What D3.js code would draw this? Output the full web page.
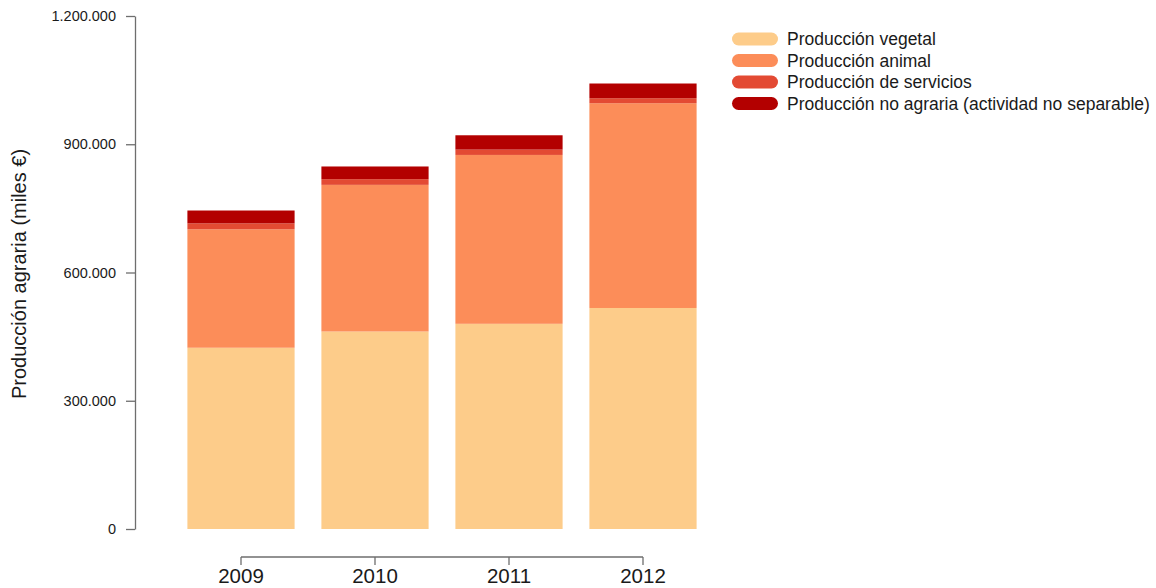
<!DOCTYPE html>
<html lang="es">
<head>
    <meta charset="UTF-8">
    <script src="https://d3js.org/d3.v7.min.js"></script>
    <style>
        body {
            margin: 0;
            padding: 0;
            background-color: #ffffff;
            font-family: 'Liberation Sans', Arial, sans-serif;
        }

        svg {
            display: block;
        }

        .axis path,
        .axis line {
            stroke: #6e6e6e;
            stroke-width: 1.3px;
        }

        .axis text {
            fill: #1a1a1a;
            font-family: 'Liberation Sans', Arial, sans-serif;
        }

        .legend text {
            fill: #1a1a1a;
            font-size: 17.5px;
        }
    </style>
</head>
<body>
    <svg id="chart" width="1156" height="588"></svg>

    <script>
        // Datos (miles de euros)
        const years = ["2009", "2010", "2011", "2012"];
        const vegetal = [424000, 462000, 480000, 517000];
        const animal = [277000, 343000, 395000, 479000];
        const servicios = [14000, 13300, 12500, 11700];
        const noAgraria = [30000, 29700, 33500, 34400];
        const yTicks = [0, 300000, 600000, 900000, 1200000];

        const seriesNames = [
            "Producción vegetal",
            "Producción animal",
            "Producción de servicios",
            "Producción no agraria (actividad no separable)"
        ];
        const colors = ["#fdcc8a", "#fc8d59", "#e34a33", "#b30000"];

        const table = years.map((y, i) => ({
            year: y,
            s0: vegetal[i],
            s1: animal[i],
            s2: servicios[i],
            s3: noAgraria[i]
        }));
        const keys = ["s0", "s1", "s2", "s3"];

        const svg = d3.select("#chart");

        const locale = d3.formatLocale({ decimal: ",", thousands: ".", grouping: [3], currency: ["", "€"] });
        const fmt = locale.format(",d");

        // Scales
        const x = d3.scaleBand()
            .domain(years)
            .range([174, 710])
            .paddingInner(0.2)
            .paddingOuter(0.1);

        const y = d3.scaleLinear()
            .domain([0, 1200000])
            .range([529, 16]);

        const color = d3.scaleOrdinal().domain(keys).range(colors);

        // Stacked bars
        const stacked = d3.stack().keys(keys)(table);

        svg.append("g")
            .selectAll("g")
            .data(stacked)
            .join("g")
            .attr("fill", d => color(d.key))
            .selectAll("rect")
            .data(d => d)
            .join("rect")
            .attr("x", d => x(d.data.year))
            .attr("y", d => y(d[1]))
            .attr("width", x.bandwidth())
            .attr("height", d => y(d[0]) - y(d[1]));

        // Y axis
        const yAxis = d3.axisLeft(y)
            .tickValues(yTicks)
            .tickFormat(fmt)
            .tickSize(9)
            .tickSizeOuter(0)
            .tickPadding(10);

        svg.append("g")
            .attr("class", "axis")
            .attr("transform", "translate(135,0)")
            .call(yAxis)
            .selectAll("text")
            .style("font-size", "14.5px");

        // X axis (R style: line from first to last tick)
        const xAxis = d3.axisBottom(x)
            .tickSize(8)
            .tickSizeOuter(0)
            .tickPadding(3);

        const gx = svg.append("g")
            .attr("class", "axis")
            .attr("transform", "translate(0,557)")
            .call(xAxis);

        gx.select(".domain").remove();
        gx.append("line")
            .attr("x1", x(years[0]) + x.bandwidth() / 2)
            .attr("x2", x(years[years.length - 1]) + x.bandwidth() / 2)
            .attr("y1", 0)
            .attr("y2", 0)
            .attr("stroke", "#6e6e6e")
            .attr("stroke-width", 1.3);

        gx.selectAll("text")
            .style("font-size", "20.5px");

        // Y title
        svg.append("text")
            .attr("transform", "translate(26,274) rotate(-90)")
            .attr("text-anchor", "middle")
            .style("font-size", "20px")
            .style("fill", "#1a1a1a")
            .text("Producción agraria (miles €)");

        // Legend
        const legend = svg.append("g")
            .attr("class", "legend")
            .attr("transform", "translate(732,39)");

        const items = legend.selectAll("g")
            .data(seriesNames)
            .join("g")
            .attr("transform", (d, i) => `translate(0,${i * 21.5})`);

        items.append("rect")
            .attr("x", 0)
            .attr("y", -6.5)
            .attr("width", 46)
            .attr("height", 13)
            .attr("rx", 6.5)
            .attr("fill", (d, i) => colors[i]);

        items.append("text")
            .attr("x", 55)
            .attr("y", 0)
            .attr("dy", "0.35em")
            .text(d => d);
    </script>
</body>
</html>
